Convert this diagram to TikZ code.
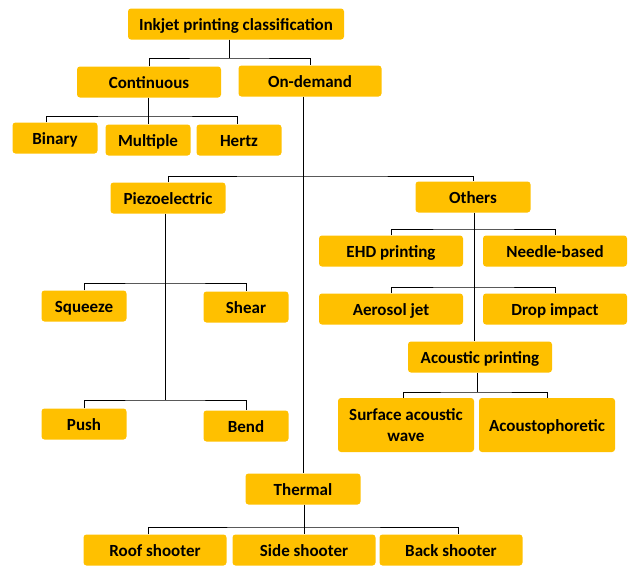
\documentclass[tikz,border=0pt]{standalone}
\usepackage{fontspec}
\setmainfont{Carlito}
\usetikzlibrary{positioning, calc}
\definecolor{boxgold}{HTML}{FFC000}
\tikzset{
  tallbox/.style={fill=boxgold, rounded corners=3pt, inner sep=2pt, minimum height=31pt,
    font=\bfseries\fontsize{17}{21}\selectfont, align=center},
  box/.style={tallbox, text height=13pt, text depth=0pt},
  link/.style={draw=black, line width=0.8pt}
}

\begin{document}
\begin{tikzpicture}[x=1pt, y=-1pt]
    \useasboundingbox (0,0) rectangle (635,566);

    % Root and first level
    \node[box, minimum width=216pt] (root) at (236,24) {Inkjet printing classification};
    \node[box, minimum width=144pt] (cont) at (149,82) {Continuous};
    \node[box, minimum width=143pt] (demand) at (310,81) {On-demand};
    \coordinate (rootbus) at (229,58);
    \draw[link] (root.south -| rootbus) -- (rootbus);
    \draw[link] (cont.north) |- (rootbus) -| (demand.north);

    % Continuous
    \node[box, minimum width=85pt] (binary) at (55,138) {Binary};
    \node[box, minimum width=85pt] (mult) at (148,140) {Multiple};
    \node[box, minimum width=85pt] (hertz) at (239,140) {Hertz};
    \coordinate (contbus) at (148,116);
    \draw[link] (cont.south -| contbus) -- (mult.north -| contbus);
    \draw[link] ([xshift=-9pt]binary.north) |- (contbus) -| ([xshift=-2pt]hertz.north);

    % On-demand
    \node[box, minimum width=115pt] (piezo) at (168,198) {Piezoelectric};
    \node[box, minimum width=115pt] (others) at (473,197) {Others};
    \node[box, minimum width=115pt] (thermal) at (303,489) {Thermal};
    \coordinate (demandbus) at (304,176);
    \draw[link] (demand.south -| thermal.north) -- (thermal.north);
    \draw[link] (piezo.north) |- (demandbus) -| (others.north);

    % Piezoelectric
    \node[box, minimum width=85pt] (squeeze) at (84,306) {Squeeze};
    \node[box, minimum width=85pt] (shear) at (246,307) {Shear};
    \node[box, minimum width=85pt] (push) at (84,424) {Push};
    \node[box, minimum width=85pt] (bend) at (246,426) {Bend};
    \coordinate (piezobusA) at (165,283);
    \coordinate (piezobusB) at (165,400);
    \draw[link] (piezo.south -| piezobusA) -- (piezobusB);
    \draw[link] (squeeze.north) |- (piezobusA) -| (shear.north);
    \draw[link] (push.north) |- (piezobusB) -| (bend.north);

    % Others
    \node[box, minimum width=144pt] (ehd) at (391,251) {EHD printing};
    \node[box, minimum width=144pt] (needle) at (555,251) {Needle-based};
    \node[box, minimum width=144pt] (aerosol) at (391,309) {Aerosol jet};
    \node[box, minimum width=144pt] (drop) at (555,309) {Drop impact};
    \node[box, minimum width=144pt] (acoustic) at (480,357) {Acoustic printing};
    \coordinate (othersbusA) at (474,229);
    \coordinate (othersbusB) at (474,287);
    \draw[link] (others.south -| othersbusA) -- (acoustic.north -| othersbusA);
    \draw[link] (ehd.north) |- (othersbusA) -| (needle.north);
    \draw[link] (aerosol.north) |- (othersbusB) -| (drop.north);

    % Acoustic printing
    \node[tallbox, minimum width=136pt, minimum height=54pt] (saw) at (406,425) {Surface acoustic\\wave};
    \node[box, minimum width=136pt, minimum height=54pt] (phoretic) at (547,425) {Acoustophoretic};
    \coordinate (acbus) at (477,392);
    \draw[link] (acoustic.south -| acbus) -- (acbus);
    \draw[link] ([xshift=-3pt]saw.north) |- (acbus) -| (phoretic.north);

    % Thermal
    \node[box, minimum width=143pt] (roof) at (155,550) {Roof shooter};
    \node[box, minimum width=143pt] (side) at (304,550) {Side shooter};
    \node[box, minimum width=143pt] (back) at (451,550) {Back shooter};
    \coordinate (thermbus) at (304,527);
    \draw[link] (thermal.south -| thermbus) -- (side.north -| thermbus);
    \draw[link] ([xshift=-7pt]roof.north) |- (thermbus) -| ([xshift=7pt]back.north);
\end{tikzpicture}
\end{document}
